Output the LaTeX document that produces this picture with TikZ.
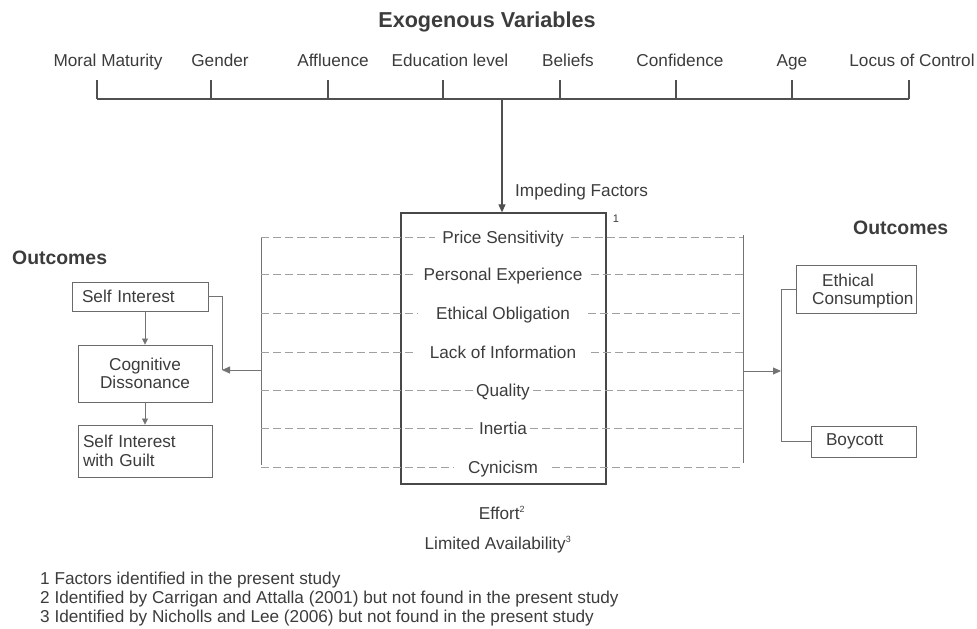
\documentclass[tikz,border=0pt]{standalone}
\usepackage{fontspec}
\setmainfont{Liberation Sans}
\usetikzlibrary{arrows.meta}
\definecolor{txt}{HTML}{3C3C3C}
\definecolor{ln}{HTML}{505050}
\definecolor{dsh}{HTML}{A0A0A0}
\begin{document}
\begin{tikzpicture}[x=1pt,y=-1pt,
  lbl/.style={font=\fontsize{17.2}{18.5}\selectfont, text=txt, inner sep=0pt},
  onel/.style={lbl, text height=12.4pt, text depth=0pt},
  hdr/.style={font=\fontsize{19.4}{22}\selectfont\bfseries, text=txt, inner sep=0pt},
  rowline/.style={draw=dsh, line width=0.9pt, dash pattern=on 8pt off 4pt},
  mainline/.style={draw=ln, line width=1.1pt},
  thinline/.style={draw=ln!80, line width=0.8pt},
  obox/.style={draw=ln!85, line width=0.9pt, lbl, inner ysep=2pt},
  arr/.style={-{Triangle[length=8pt,width=7pt]}},
  sarr/.style={-{Triangle[length=6pt,width=6pt]}}
]
\useasboundingbox (0,0) rectangle (977,629);

% title
\node[hdr, font=\fontsize{21.6}{24}\selectfont\bfseries] (title) at (487,22) {Exogenous Variables};

% exogenous variables
\node[onel] (v1) at (108,60) {Moral Maturity};
\node[onel] (v2) at (220,60) {Gender};
\node[onel] (v3) at (333,60) {Affluence};
\node[onel] (v4) at (450,60) {Education level};
\node[onel] (v5) at (568,60) {Beliefs};
\node[onel] (v6) at (680,60) {Confidence};
\node[onel] (v7) at (792,60) {Age};
\node[onel] (v8) at (912,60) {Locus of Control};

\foreach \i/\x in {1/97,2/211,3/328,4/443,5/560,6/676,7/792,8/909}{
  \coordinate (t\i) at (\x,80);
  \coordinate (b\i) at (\x,99);
  \draw[mainline] (t\i) -- (b\i);
}
\draw[mainline] (b1) -- (b8);

% central box
\coordinate (top) at (502,99);
\node[draw=ln!90!black, line width=1.3pt, minimum width=205, minimum height=271, inner sep=0pt] (box) at (503.5,348.5) {};
\draw[mainline, arr] (top) -- (top |- box.north);
\node[onel, anchor=west] (imp) at (515,190) {Impeding Factors};
\node[lbl, font=\fontsize{11}{12}\selectfont] (n1) at (616,219) {1};

% vertical rails
\coordinate (lvt) at (261,237);
\coordinate (lvb) at (261,465);
\coordinate (rvt) at (743,235);
\coordinate (rvb) at (743,463);
\draw[thinline] (lvt) -- (lvb);
\draw[thinline] (rvt) -- (rvb);

% rows
\node[onel, inner xsep=7pt] (r1) at (503,237) {Price Sensitivity};
\node[onel, inner xsep=8pt] (r2) at (503,274) {Personal Experience};
\node[onel, inner xsep=18pt] (r3) at (503,313) {Ethical Obligation};
\node[onel, inner xsep=15pt] (r4) at (503,352) {Lack of Information};
\node[onel, inner xsep=3pt] (r5) at (503,390) {Quality};
\node[onel, inner xsep=3pt] (r6) at (503,428) {Inertia};
\node[onel, inner xsep=14pt] (r7) at (503,467) {Cynicism};
\foreach \i in {1,...,7}{
  \draw[rowline] (r\i.west -| lvt) -- (r\i.west);
  \draw[rowline] (r\i.east) -- (r\i.east -| rvt);
}

% effort / availability
\node[onel] (eff) at (502,513) {Effort\textsuperscript{\fontsize{9}{10}\selectfont 2}};
\node[onel] (lim) at (498,543) {Limited Availability\textsuperscript{\fontsize{9}{10}\selectfont 3}};

% left outcomes
\node[hdr, anchor=west] (outl) at (12,258) {Outcomes};
\node[obox, inner xsep=10pt, text width=116pt, align=left, minimum height=29] (si) at (140,296.5) {Self Interest};
\node[obox, text width=124pt, inner xsep=5pt, align=center, minimum height=57] (cd) at (145,373.5) {Cognitive\\Dissonance};
\node[obox, text width=124pt, inner xsep=5pt, align=left, minimum height=52] (sg) at (145,451) {Self Interest\\with Guilt};
\draw[thinline, sarr] (si.south -| cd.north) -- (cd.north);
\draw[thinline, sarr] (cd.south) -- (sg.north);
\coordinate (la) at (261,370);
\coordinate (lj) at (222,370);
\draw[thinline, arr] (la) -- (lj);
\draw[thinline] (si.east) -| (lj);

% right outcomes
\node[hdr, anchor=west] (outr) at (853,228) {Outcomes};
\node[draw=ln!85, line width=0.9pt, minimum width=120, minimum height=48, inner sep=0pt] (ec) at (856,289) {};
\node[lbl, anchor=west, align=left] (ect) at (812,291) {\hspace*{10pt}Ethical\\Consumption};
\node[obox, inner xsep=15pt, text width=75pt, align=left, minimum height=31] (bc) at (863.5,441.5) {Boycott};
\coordinate (ra) at (743,371);
\coordinate (rj) at (781,371);
\draw[thinline, arr] (ra) -- (rj);
\draw[thinline] (ec.west) -| (rj);
\draw[thinline] (bc.west) -| (rj);

% footnotes
\node[lbl, anchor=west] (f1) at (40,580) {1 Factors identified in the present study};
\node[lbl, anchor=west] (f2) at (40,599) {2 Identified by Carrigan and Attalla (2001) but not found in the present study};
\node[lbl, anchor=west] (f3) at (40,618) {3 Identified by Nicholls and Lee (2006) but not found in the present study};
\end{tikzpicture}
\end{document}
